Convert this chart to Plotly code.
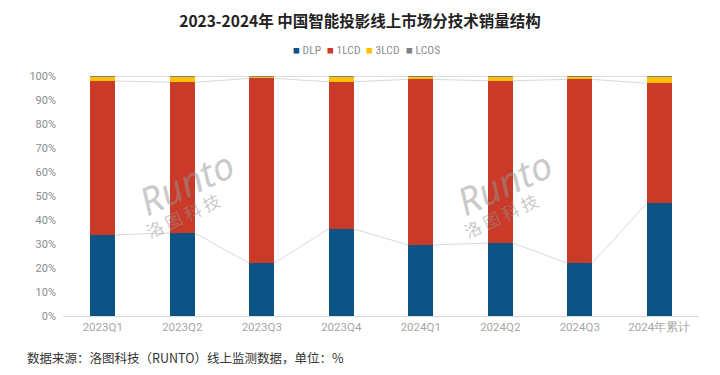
import plotly.graph_objects as go

categories = ["2023Q1", "2023Q2", "2023Q3", "2023Q4", "2024Q1", "2024Q2", "2024Q3", "2024年累计"]
dlp = [33.8, 34.6, 22.0, 36.3, 29.6, 30.4, 22.0, 47.0]
lcd1 = [64.1, 62.8, 77.0, 61.3, 69.0, 67.6, 76.6, 50.0]
lcd3 = [2.0, 2.5, 0.9, 2.3, 1.3, 1.9, 1.3, 2.9]
lcos = [0.1, 0.1, 0.1, 0.1, 0.1, 0.1, 0.1, 0.1]

series = [("DLP", dlp, "#0B5485"), ("1LCD", lcd1, "#C93A28"),
          ("3LCD", lcd3, "#FFC000"), ("LCOS", lcos, "#808080")]
bar_w = 0.315
x = list(range(len(categories)))

fig = go.Figure()
for name, vals, col in series:
    fig.add_trace(go.Bar(x=x, y=vals, name=name, marker_color=col,
                         marker_line_width=0, width=bar_w, showlegend=False))

# series lines (connect cumulative tops between adjacent bars)
cum = [0.0] * len(categories)
for name, vals, col in series:
    cum = [c + v for c, v in zip(cum, vals)]
    lx, ly = [], []
    for i in range(len(categories) - 1):
        lx += [i + bar_w / 2, i + 1 - bar_w / 2, None]
        ly += [cum[i], cum[i + 1], None]
    fig.add_trace(go.Scatter(x=lx, y=ly, mode="lines", showlegend=False,
                             hoverinfo="skip",
                             line=dict(color="#D9D9D9", width=1)))

# watermarks
for wx in [1.05, 5.05]:
    fig.add_annotation(x=wx, y=56, text="<i>Runto</i>", showarrow=False,
                       textangle=-25, font=dict(size=38, color="rgba(150,150,150,0.5)",
                                                family="Noto Sans"))
    fig.add_annotation(x=wx - 0.05, y=42, text="洛 图 科 技", showarrow=False,
                       textangle=-25, font=dict(size=17, color="rgba(150,150,150,0.5)",
                                                family="Noto Sans CJK SC"))

# custom compact legend
leg_px = [291, 325, 364, 404]
for (name, vals, col), px in zip(series, leg_px):
    fig.add_annotation(xref="paper", yref="paper", x=(px - 63) / 636, y=(316 - 50) / 240,
                       xanchor="left", yanchor="middle", showarrow=False,
                       text=f"<span style='color:{col}'>■</span> {name}",
                       font=dict(size=11.5, color="#8C8C8C",
                                 family="Liberation Sans Narrow, Roboto Condensed, Roboto"))

fig.update_layout(
    width=720, height=375,
    barmode="stack",
    plot_bgcolor="white", paper_bgcolor="white",
    margin=dict(l=55, r=29, t=68, b=67, autoexpand=False),
    title=dict(text="<b>2023-2024年 中国智能投影线上市场分技术销量结构</b>",
               x=(360 - 8) / 720, xanchor="center", y=1 - 14 / 375, yanchor="middle",
               font=dict(size=15.5, color="#222222", family="Noto Sans CJK SC")),
    font=dict(family="Noto Sans CJK SC"),
    showlegend=False,
)
fig.update_xaxes(tickvals=x, ticktext=categories, range=[-0.5, 7.5],
                 showline=True, linecolor="#D9D9D9", linewidth=1,
                 showgrid=False, ticks="", zeroline=False,
                 tickfont=dict(size=11.5, color="#A6A6A6", family="Liberation Sans Narrow, Roboto"))
fig.update_yaxes(range=[0, 100], tickvals=list(range(0, 101, 10)),
                 ticktext=[f"{v}%" for v in range(0, 101, 10)],
                 showgrid=False, zeroline=False, showline=False, ticks="",
                 ticklabelstandoff=6,
                 tickfont=dict(size=11, color="#8C8C8C", family="Liberation Sans Narrow, Roboto"))

fig.add_annotation(xref="paper", yref="paper", x=(25 - 63) / 636, y=(316 - 357) / 240,
                   xanchor="left", yanchor="middle", showarrow=False,
                   text="数据来源：洛图科技（RUNTO）线上监测数据，单位：%",
                   font=dict(size=12.5, color="#333333", family="Noto Sans CJK SC"))

fig.write_html("out.html")
